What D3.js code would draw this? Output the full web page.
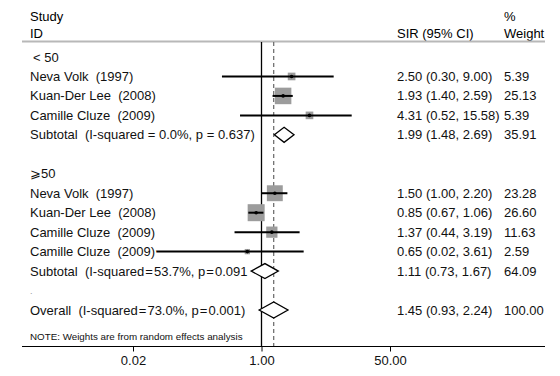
<!DOCTYPE html>
<html>
<head>
<meta charset="utf-8">
<script src="https://cdn.jsdelivr.net/npm/d3@7"></script>
<style>
body { margin: 0; background: #fff; overflow: hidden; }
svg { display: block; }
text { font-family: "Liberation Sans", Arial, sans-serif; white-space: pre; }
</style>
</head>
<body>
<script>
var rowLabels = ["< 50", "Neva Volk  (1997)", "Kuan-Der Lee  (2008)", "Camille Cluze  (2009)",
    "Subtotal  (I-squared = 0.0%, p = 0.637)", "",
    "\u2A7E" + "50", "Neva Volk  (1997)", "Kuan-Der Lee  (2008)", "Camille Cluze  (2009)", "Camille Cluze  (2009)",
    "Subtotal  (I-squared\u200A=\u200A53.7%, p\u200A=\u200A0.091", ".",
    "Overall  (I-squared\u200A=\u200A73.0%, p\u200A=\u200A0.001)"];
var rowType = ["head", "study", "study", "study", "sub", "blank",
    "head", "study", "study", "study", "study", "sub", "blank", "overall"];
var est    = [null, 2.50, 1.93, 4.31, 1.99, null, null, 1.50, 0.85, 1.37, 0.65, 1.11, null, 1.45];
var lower  = [null, 0.30, 1.40, 0.52, 1.48, null, null, 1.00, 0.67, 0.44, 0.02, 0.73, null, 0.93];
var upper  = [null, 9.00, 2.59, 15.58, 2.69, null, null, 2.20, 1.06, 3.19, 3.61, 1.67, null, 2.24];
var weight = [null, 5.39, 25.13, 5.39, 35.91, null, null, 23.28, 26.60, 11.63, 2.59, 64.09, null, 100.00];
var tickVals = [0.02, 1, 50];
var overallEst = 1.45;

var width = 560, height = 376;
var left = 22, right = 545;
var fs = "13px";
var f2 = d3.format(".2f");

var svg = d3.select("body").append("svg")
    .attr("width", width)
    .attr("height", height);

var x = d3.scaleLog().domain([0.02, 50]).range([133, 390]);
var y = d3.scaleLinear().domain([0, 13]).range([57, 310]);
var box = d3.scaleSqrt().domain([0, 26.6]).range([0, 17]);

// header
svg.append("text").attr("x", 30).attr("y", 16).attr("dy", "0.35em").attr("font-size", fs).text("Study");
svg.append("text").attr("x", 30).attr("y", 33).attr("dy", "0.35em").attr("font-size", fs).text("ID");
svg.append("text").attr("x", 397).attr("y", 33).attr("dy", "0.35em").attr("font-size", fs).text("SIR (95% CI)");
svg.append("text").attr("x", 504).attr("y", 16).attr("dy", "0.35em").attr("font-size", fs).text("%");
svg.append("text").attr("x", 504).attr("y", 33).attr("dy", "0.35em").attr("font-size", fs).text("Weight");

svg.append("line")
    .attr("x1", left).attr("x2", right)
    .attr("y1", 41.5).attr("y2", 41.5)
    .attr("stroke", "#b8b8b8").attr("stroke-width", 2);

// reference lines
svg.append("line")
    .attr("x1", x(1)).attr("x2", x(1))
    .attr("y1", 42).attr("y2", 346)
    .attr("stroke", "#000").attr("stroke-width", 1.3);
svg.append("line")
    .attr("x1", x(overallEst)).attr("x2", x(overallEst))
    .attr("y1", 42).attr("y2", 346)
    .attr("stroke", "#666").attr("stroke-width", 1.2)
    .attr("stroke-dasharray", "4,3");

var rows = d3.range(rowLabels.length);
var studies = rows.filter(function(i) { return rowType[i] == "study"; });
var pooled = rows.filter(function(i) { return rowType[i] == "sub" || rowType[i] == "overall"; });

// study boxes and CI lines
svg.selectAll("rect.box").data(studies).enter().append("rect")
    .attr("class", "box")
    .attr("x", function(i) { return x(est[i]) - box(weight[i]) / 2; })
    .attr("y", function(i) { return y(i) - box(weight[i]) / 2; })
    .attr("width", function(i) { return box(weight[i]); })
    .attr("height", function(i) { return box(weight[i]); })
    .attr("fill", "#9c9c9c");

svg.selectAll("line.ci").data(studies).enter().append("line")
    .attr("class", "ci")
    .attr("x1", function(i) { return x(lower[i]); })
    .attr("x2", function(i) { return x(upper[i]); })
    .attr("y1", function(i) { return y(i); })
    .attr("y2", function(i) { return y(i); })
    .attr("stroke", "#000").attr("stroke-width", 2);

svg.selectAll("circle.pt").data(studies).enter().append("circle")
    .attr("class", "pt")
    .attr("cx", function(i) { return x(est[i]); })
    .attr("cy", function(i) { return y(i); })
    .attr("r", 1.8)
    .attr("fill", "#000");

// left labels (white halo hides the line under the text)
svg.selectAll("text.lab").data(rows).enter().append("text")
    .attr("class", "lab")
    .attr("x", function(i) { return i == 0 ? 33 : 30; })
    .attr("y", function(i) { return y(i); })
    .attr("dy", "0.35em")
    .attr("font-size", function(i) { return rowLabels[i] == "." ? "9px" : fs; })
    .attr("fill", function(i) { return rowLabels[i] == "." ? "#999" : "#111"; })
    .attr("stroke", "#fff").attr("stroke-width", 4)
    .attr("paint-order", "stroke")
    .text(function(i) { return rowLabels[i]; });

// pooled diamonds
svg.selectAll("path.dia").data(pooled).enter().append("path")
    .attr("class", "dia")
    .attr("d", function(i) {
        var h = rowType[i] == "overall" ? 8 : 7.5;
        return "M" + x(lower[i]) + "," + y(i) +
            "L" + x(est[i]) + "," + (y(i) - h) +
            "L" + x(upper[i]) + "," + y(i) +
            "L" + x(est[i]) + "," + (y(i) + h) + "Z";
    })
    .attr("fill", "#fff")
    .attr("stroke", "#000").attr("stroke-width", 1.3);

// right columns
var valued = rows.filter(function(i) { return est[i] != null; });
svg.selectAll("text.est").data(valued).enter().append("text")
    .attr("class", "est")
    .attr("x", 397)
    .attr("y", function(i) { return y(i); })
    .attr("dy", "0.35em")
    .attr("font-size", fs)
    .attr("fill", "#111")
    .text(function(i) { return f2(est[i]) + " (" + f2(lower[i]) + ", " + f2(upper[i]) + ")"; });
svg.selectAll("text.wt").data(valued).enter().append("text")
    .attr("class", "wt")
    .attr("x", 504)
    .attr("y", function(i) { return y(i); })
    .attr("dy", "0.35em")
    .attr("font-size", fs)
    .attr("fill", "#111")
    .text(function(i) { return f2(weight[i]); });

svg.append("text")
    .attr("x", 30).attr("y", 337).attr("dy", "0.35em")
    .attr("font-size", "9.8px").attr("fill", "#111")
    .text("NOTE: Weights are from random effects analysis");

// x axis
svg.append("line")
    .attr("x1", left).attr("x2", right)
    .attr("y1", 346.5).attr("y2", 346.5)
    .attr("stroke", "#000").attr("stroke-width", 1.2);
var xAxis = d3.axisBottom(x)
    .tickValues(tickVals)
    .tickFormat(f2)
    .tickSize(5)
    .tickSizeOuter(0);
var xAxisG = svg.append("g")
    .attr("transform", "translate(0,346.5)")
    .call(xAxis);
xAxisG.select(".domain").remove();
xAxisG.selectAll("text")
    .attr("font-family", "Liberation Sans, Arial, sans-serif")
    .attr("font-size", fs)
    .attr("fill", "#111")
    .attr("y", 9);
</script>
</body>
</html>
